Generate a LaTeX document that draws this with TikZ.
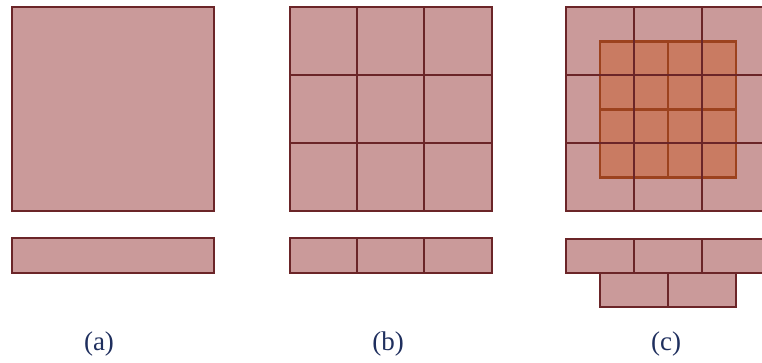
\documentclass[tikz,border=0pt]{standalone}
\usepackage{fontspec}
\setmainfont{Liberation Serif}
\begin{document}
\begin{tikzpicture}[x=1pt,y=-1pt,
  cell/.style={fill=pinkfill,draw=maroon,line width=2.6pt},
  grid/.style={draw=maroon,line width=2.6pt},
  ocell/.style={fill=orangefill,draw=orangeline,line width=2.2pt},
  lbl/.style={text=navy,font=\fontsize{27}{30}\selectfont,inner sep=0pt}]
\definecolor{pinkfill}{HTML}{CA9A9A}
\definecolor{maroon}{HTML}{6B2528}
\definecolor{orangefill}{HTML}{C97B62}
\definecolor{orangeline}{HTML}{9C421E}
\definecolor{navy}{HTML}{1F2F5E}
\useasboundingbox (0,0) rectangle (762,362);
\clip (0,0) rectangle (762,362);
% (a)
\path[cell] (12,7) rectangle (214,211);
\path[cell] (12,238) rectangle (214,273);
\node[lbl] (la) at (99,344) {(a)};
% (b)
\path[cell] (290,7) rectangle (492,211);
\draw[grid] (357,7) -- (357,211) (424,7) -- (424,211)
            (290,75) -- (492,75) (290,143) -- (492,143);
\path[cell] (290,238) rectangle (492,273);
\draw[grid] (357,238) -- (357,273) (424,238) -- (424,273);
\node[lbl] (lb) at (388,344) {(b)};
% (c)
\path[fill=pinkfill] (566,7) rectangle (770,211);
\path[ocell] (600,41.5) rectangle (736,177.5);
\draw[orangeline,line width=2.2pt] (668,41.5) -- (668,177.5) (600,109.5) -- (736,109.5)
     (634,41.5) -- (634,177.5) (702,41.5) -- (702,177.5)
     (600,75) -- (736,75) (600,143) -- (736,143);
\draw[grid] (566,7) rectangle (770,211);
\draw[grid] (634,7) -- (634,211) (702,7) -- (702,211)
            (566,75) -- (770,75) (566,143) -- (770,143);
\path[cell] (566,239) rectangle (770,273);
\draw[grid] (634,239) -- (634,273) (702,239) -- (702,273);
\path[cell] (600,273) rectangle (736,307);
\draw[grid] (668,273) -- (668,307);
\node[lbl] (lc) at (666,344) {(c)};
\end{tikzpicture}
\end{document}
